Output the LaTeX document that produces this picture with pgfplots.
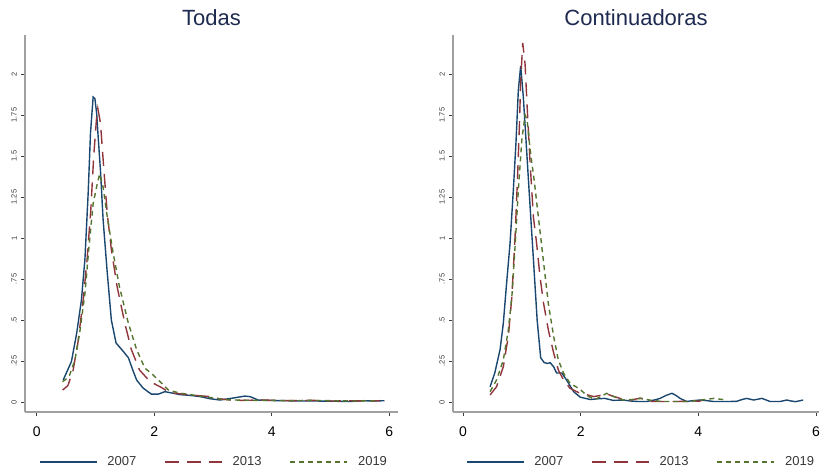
\documentclass[border=0pt]{standalone}
\usepackage{fontspec}
\setmainfont{Liberation Sans}
\usepackage{pgfplots}
\pgfplotsset{compat=1.18}
\definecolor{s2navy}{RGB}{26,71,111}
\definecolor{s2maroon}{RGB}{144,53,59}
\definecolor{s2green}{RGB}{85,117,47}
\definecolor{titlec}{RGB}{30,42,80}
\definecolor{axisc}{RGB}{160,160,160}
\definecolor{tickc}{RGB}{60,60,60}
\newcommand{\lf}{\fontsize{13}{13}\selectfont}
\pgfplotsset{
 stata/.style={
  scale only axis, height=377pt,
  axis x line*=bottom, axis y line*=left,
  axis line style={axisc, line width=1.3pt, -},
  every tick/.style={tickc, line width=0.7pt},
  tick align=outside, major tick length=4pt,
  xtick={0,2,4,6}, xticklabels={0,2,4,6},
  ytick={0,0.25,0.5,0.75,1,1.25,1.5,1.75,2},
  yticklabels={0,.25,.5,.75,1,1.25,1.5,1.75,2},
  ymin=-0.061, ymax=2.238,
  xticklabel style={font=\fontsize{14}{14}\selectfont, anchor=north, inner sep=0pt, text=black, yshift=-11pt},
  yticklabel style={font=\fontsize{7.5}{7.5}\selectfont, rotate=90, anchor=south, inner sep=0pt, text=tickc, yshift=4pt},
  title style={font=\fontsize{22}{22}\selectfont, text=titlec, at={(0.5,1)}, anchor=base, yshift=3pt, inner sep=0pt},
  legend columns=3,
  legend image code/.code={\draw[##1] (0pt,0pt) -- (57pt,0pt);},
  legend style={draw=none, fill=none, at={(0.5,0)}, anchor=center, yshift=-50pt,
    text=black!78,
    nodes={inner sep=0pt},
    /tikz/every odd column/.append style={column sep=10pt},
    /tikz/every even column/.append style={column sep=28pt}},
  no markers,
 },
 y07/.style={s2navy, line width=1.4pt, solid},
 y13/.style={s2maroon, line width=1.4pt, dash pattern=on 14pt off 8pt},
 y19/.style={s2green, line width=1.4pt, dash pattern=on 5pt off 4pt},
}
\begin{document}
\begin{tikzpicture}
\useasboundingbox (0,0) rectangle (821pt,467pt);
\begin{axis}[stata, at={(25pt,55pt)}, anchor=south west, width=373pt,
  xmin=-0.2, xmax=6.15, title={Todas}, legend style={xshift=1.5pt}]
\addplot[y07] coordinates {(0.45,0.134) (0.52,0.19) (0.59,0.246) (0.68,0.42) (0.76,0.62) (0.82,0.87) (0.875,1.27) (0.915,1.64) (0.96,1.86) (0.99,1.85) (1.02,1.76) (1.045,1.62) (1.085,1.41) (1.13,1.11) (1.2,0.79) (1.27,0.50) (1.35,0.36) (1.47,0.31) (1.56,0.27) (1.63,0.20) (1.70,0.134) (1.81,0.085) (1.95,0.048) (2.07,0.048) (2.18,0.063) (2.30,0.055) (2.44,0.045) (2.62,0.04) (2.78,0.033) (2.95,0.02) (3.12,0.012) (3.34,0.024) (3.54,0.036) (3.63,0.033) (3.77,0.012) (4.0,0.009) (4.2,0.008) (4.5,0.006) (4.76,0.006) (5.0,0.005) (5.33,0.003) (5.56,0.008) (5.75,0.006) (5.92,0.008)};
\addlegendentry{\lf 2007}
\addplot[y13] coordinates {(0.44,0.073) (0.53,0.10) (0.62,0.195) (0.70,0.36) (0.79,0.62) (0.857,0.87) (0.92,1.17) (0.97,1.50) (1.02,1.74) (1.04,1.79) (1.085,1.70) (1.14,1.43) (1.2,1.15) (1.27,0.93) (1.37,0.70) (1.5,0.48) (1.61,0.32) (1.75,0.195) (1.93,0.124) (2.1,0.093) (2.27,0.057) (2.44,0.05) (2.6,0.043) (2.78,0.038) (2.95,0.033) (3.1,0.02) (3.3,0.012) (3.5,0.01) (3.8,0.012) (4.1,0.01) (4.4,0.008) (4.7,0.01) (5.0,0.006) (5.3,0.008) (5.6,0.006) (5.84,0.008)};
\addlegendentry{\lf 2013}
\addplot[y19] coordinates {(0.44,0.124) (0.50,0.14) (0.56,0.165) (0.65,0.256) (0.73,0.42) (0.82,0.66) (0.89,0.95) (0.96,1.21) (1.03,1.33) (1.07,1.39) (1.13,1.31) (1.2,1.13) (1.3,0.91) (1.41,0.70) (1.56,0.48) (1.70,0.32) (1.84,0.207) (1.98,0.165) (2.1,0.124) (2.24,0.073) (2.44,0.054) (2.62,0.045) (2.83,0.033) (3.0,0.025) (3.2,0.015) (3.4,0.012) (3.7,0.01) (4.0,0.01) (4.3,0.008) (4.6,0.01) (5.0,0.008) (5.4,0.006) (5.8,0.008)};
\addlegendentry{\lf 2019}
\end{axis}
\begin{axis}[stata, at={(453pt,55pt)}, anchor=south west, width=366pt,
  xmin=-0.17, xmax=6.05, title={Continuadoras}, legend style={xshift=4pt}]
\addplot[y07] coordinates {(0.46,0.093) (0.54,0.177) (0.63,0.32) (0.685,0.48) (0.74,0.72) (0.80,0.97) (0.855,1.29) (0.90,1.58) (0.94,1.90) (0.98,2.05) (1.025,1.86) (1.07,1.60) (1.13,1.25) (1.20,0.85) (1.26,0.50) (1.32,0.27) (1.38,0.24) (1.44,0.235) (1.48,0.24) (1.54,0.215) (1.59,0.177) (1.68,0.177) (1.76,0.134) (1.88,0.063) (1.99,0.03) (2.16,0.015) (2.3,0.02) (2.41,0.022) (2.55,0.01) (2.72,0.012) (2.85,0.006) (2.98,0.003) (3.12,0.003) (3.25,0.012) (3.35,0.022) (3.45,0.04) (3.55,0.053) (3.62,0.04) (3.69,0.022) (3.80,0.003) (3.9,0.008) (4.03,0.012) (4.15,0.008) (4.26,0.003) (4.5,0.003) (4.65,0.004) (4.74,0.015) (4.82,0.022) (4.94,0.012) (5.08,0.022) (5.22,0.003) (5.39,0.003) (5.5,0.012) (5.58,0.006) (5.65,0.002) (5.78,0.012)};
\addlegendentry{\lf 2007}
\addplot[y13] coordinates {(0.46,0.043) (0.57,0.093) (0.685,0.215) (0.77,0.40) (0.83,0.64) (0.885,1.01) (0.925,1.35) (0.96,1.70) (0.98,1.96) (1.015,2.19) (1.055,2.06) (1.09,1.80) (1.14,1.46) (1.196,1.13) (1.25,0.97) (1.31,0.76) (1.37,0.60) (1.45,0.44) (1.54,0.30) (1.62,0.195) (1.71,0.134) (1.82,0.083) (1.99,0.053) (2.1,0.045) (2.22,0.033) (2.38,0.043) (2.44,0.05) (2.55,0.035) (2.67,0.022) (2.78,0.01) (2.9,0.015) (3.01,0.024) (3.1,0.012) (3.18,0.004) (3.4,0.003) (3.6,0.003) (3.8,0.004) (4.05,0.006)};
\addlegendentry{\lf 2013}
\addplot[y19] coordinates {(0.46,0.063) (0.57,0.134) (0.685,0.256) (0.77,0.44) (0.83,0.64) (0.885,0.95) (0.94,1.29) (1.0,1.60) (1.055,1.75) (1.09,1.72) (1.14,1.54) (1.21,1.35) (1.28,1.13) (1.37,0.85) (1.45,0.60) (1.54,0.40) (1.62,0.256) (1.71,0.175) (1.82,0.114) (1.99,0.078) (2.1,0.04) (2.24,0.015) (2.35,0.035) (2.44,0.053) (2.55,0.035) (2.72,0.012) (2.88,0.015) (3.03,0.022) (3.2,0.01) (3.39,0.003) (3.6,0.003) (3.86,0.003) (4.05,0.012) (4.26,0.022) (4.48,0.012)};
\addlegendentry{\lf 2019}
\end{axis}
\end{tikzpicture}
\end{document}
